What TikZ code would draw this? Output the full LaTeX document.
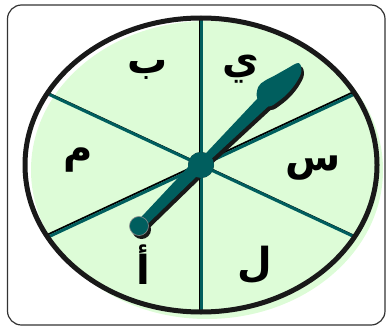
\documentclass[tikz,border=0pt]{standalone}
\usepackage{fontspec}
\usetikzlibrary{calc}
\newfontfamily\arabicfont[Script=Arabic]{DejaVu Sans}
\TeXXeTstate=1
\definecolor{teal0}{RGB}{0,94,94}
\definecolor{wheelgreen}{RGB}{221,252,215}
\definecolor{rim}{RGB}{25,25,25}
\newcommand\needleparts[1]{%
  \fill[#1] (0,0) circle (9.5);
  \fill[#1] (0,4.5) -- (86,6.5) -- (86,-6.5) -- (0,-4.5) -- cycle;
  \fill[#1] (86,3) -- (180,5) -- (180,-8.5) -- (86,-4) -- cycle;
  \fill[#1] plot[smooth cycle, tension=0.6] coordinates {(174,5) (183,12.5) (192,12) (203,8.5) (215,5) (228,0.5) (224,-7.5) (213,-11.5) (200,-13) (187,-12) (176,-8.5)};
}
\tikzset{
  letter/.style={font=\arabicfont\bfseries\fontsize{40}{46}\selectfont, text=black, inner sep=0pt},
  spokeshadow/.style={draw=black, line width=1.8},
  spoke/.style={draw=teal0, line width=3},
}
\begin{document}
\begin{tikzpicture}[x=1pt,y=1pt]
\useasboundingbox (0,0) rectangle (387,327);
\coordinate (c) at (201,162);
% frame
\draw[line width=1.2, black!80, rounded corners=14] (7.5,2) rectangle (385,322);
% green blob
\fill[wheelgreen] (207,157) ellipse (176 and 149);
% spokes
\begin{scope}
  \clip (c) ellipse (176 and 147);
  \foreach \a in {90,25,155,205,270,335} {
    \draw[spokeshadow] ($(c)+(-1.3,1.3)$) -- ++(\a:200);
  }
  \foreach \a in {90,25,155,205,270,335} {
    \draw[spoke] ($(c)+(0.5,-0.5)$) -- ++(\a:200);
  }
\end{scope}
% rim
\draw[rim, line width=5] (c) ellipse (176 and 147);
% letters
\node[letter] (b) at (148,257) {\beginR ب\endR};
\node[letter] (y) at (241,258) {\beginR ي\endR};
\node[letter] (m) at (78,167) {\beginR م\endR};
\node[letter] (s) at (313,159) {\beginR س\endR};
\node[letter] (a) at (143,62) {\beginR أ\endR};
\node[letter] (l) at (255,62) {\beginR ل\endR};
% needle shadow
\begin{scope}[shift={(2.5,-3.5)}]
  \begin{scope}[shift={(139,101)}, rotate=45.5]
    \needleparts{rim}
  \end{scope}
  \fill[rim] (c) circle (13);
\end{scope}
% needle
\begin{scope}[shift={(139,101)}, rotate=45.5]
  \needleparts{teal0}
  \draw[black!45, line width=0.6] (0,0) circle (9.5);
\end{scope}
\fill[teal0] (c) circle (13);
\end{tikzpicture}
\end{document}
